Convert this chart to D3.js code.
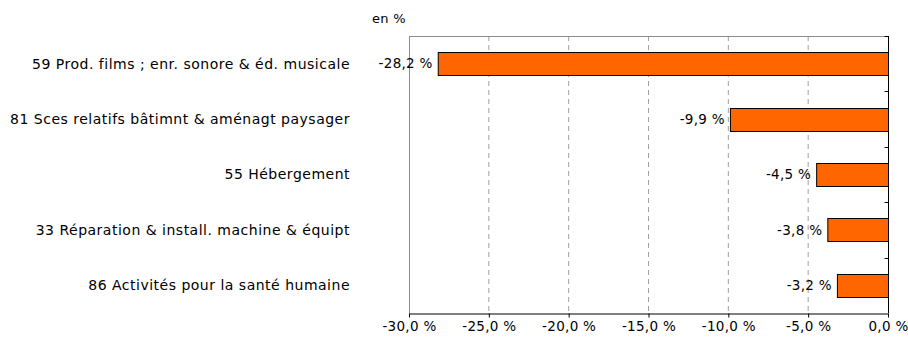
<!DOCTYPE html>
<html>
<head>
<meta charset="utf-8">
<script src="https://cdn.jsdelivr.net/npm/d3@7"></script>
<style>
  html, body { margin: 0; padding: 0; background: #fff; }
  svg { display: block; }
  text { font-family: "DejaVu Sans", sans-serif; fill: #000; }
</style>
</head>
<body>
<div id="chart"></div>
<script>
// Sectors and their change, in percent
const categories = [
  "59 Prod. films ; enr. sonore & éd. musicale",
  "81 Sces relatifs bâtimnt & aménagt paysager",
  "55 Hébergement",
  "33 Réparation & install. machine & équipt",
  "86 Activités pour la santé humaine"
];
const values = [-28.2, -9.9, -4.5, -3.8, -3.2];
const xTicks = [-30, -25, -20, -15, -10, -5, 0];
const unitLabel = "en %";

const W = 908, H = 342;
const margin = { left: 409, right: 20, top: 36, bottom: 29 };

const fmt = v => d3.format(".1f")(v).replace(".", ",").replace("−", "-") + " %";

const svg = d3.select("#chart").append("svg")
  .attr("width", W).attr("height", H);

const x = d3.scaleLinear().domain([-30, 0]).range([margin.left, W - margin.right]);
const y = d3.scaleBand().domain(categories)
  .range([margin.top, H - margin.bottom]).paddingInner(0.585).paddingOuter(0.2925);
const yEdges = d3.scaleBand().domain(categories).range([margin.top, H - margin.bottom]);

// Dashed vertical grid
svg.append("g").selectAll("line")
  .data(xTicks.filter(t => t !== -30 && t !== 0))
  .join("line")
  .attr("x1", d => x(d)).attr("x2", d => x(d))
  .attr("y1", margin.top).attr("y2", H - margin.bottom)
  .attr("stroke", "#a0a0a0").attr("stroke-width", 1)
  .attr("stroke-dasharray", "5,4");

// Frame: top and left in grey
svg.append("line")
  .attr("x1", x(-30)).attr("x2", x(0))
  .attr("y1", margin.top + 0.5).attr("y2", margin.top + 0.5)
  .attr("stroke", "#8c8c8c");
svg.append("line")
  .attr("x1", x(-30) + 0.5).attr("x2", x(-30) + 0.5)
  .attr("y1", margin.top).attr("y2", H - margin.bottom)
  .attr("stroke", "#8c8c8c");

// Bars
svg.append("g").selectAll("rect")
  .data(values)
  .join("rect")
  .attr("x", d => x(d) + 0.5)
  .attr("y", (d, i) => Math.round(y(categories[i])) + 0.5)
  .attr("width", d => x(0) - x(d))
  .attr("height", y.bandwidth())
  .attr("fill", "#ff6600")
  .attr("stroke", "#000").attr("stroke-width", 1);

// Value labels
svg.append("g").selectAll("text")
  .data(values)
  .join("text")
  .attr("x", d => x(d) - 5)
  .attr("y", (d, i) => y(categories[i]) + y.bandwidth() / 2)
  .attr("dy", "0.35em")
  .attr("text-anchor", "end")
  .attr("font-size", 13.5)
  .attr("letter-spacing", 0.3)
  .text(d => fmt(d));

// Bottom axis
const xAxis = d3.axisBottom(x).tickValues(xTicks).tickSize(4).tickSizeOuter(0).tickFormat(fmt);
const gx = svg.append("g")
  .attr("transform", `translate(0,${H - margin.bottom + 0.5})`)
  .call(xAxis);
gx.select(".domain").attr("stroke", "#000");
gx.selectAll(".tick line").attr("stroke", "#000");
gx.selectAll(".tick text").attr("font-size", 13.5).attr("dy", "0.8em")
  .attr("letter-spacing", 0.3)
  .attr("font-family", "DejaVu Sans, sans-serif");

// Right axis at zero with inward ticks at category boundaries
const gr = svg.append("g").attr("transform", `translate(${x(0) + 0.5},0)`);
gr.append("line")
  .attr("y1", margin.top).attr("y2", H - margin.bottom)
  .attr("stroke", "#000");
gr.selectAll(".edge")
  .data(categories)
  .join("line")
  .attr("class", "edge")
  .attr("x1", -4).attr("x2", 0)
  .attr("y1", d => Math.round(yEdges(d)) + 0.5)
  .attr("y2", d => Math.round(yEdges(d)) + 0.5)
  .attr("stroke", "#000");

// Category labels
svg.append("g").selectAll("text")
  .data(categories)
  .join("text")
  .attr("x", 350)
  .attr("y", d => y(d) + y.bandwidth() / 2)
  .attr("dy", "0.35em")
  .attr("text-anchor", "end")
  .attr("font-size", 14)
  .attr("letter-spacing", 0.5)
  .text(d => d);

// Unit label
svg.append("text")
  .attr("x", 372).attr("y", 18)
  .attr("dy", "0.35em")
  .attr("font-size", 13)
  .attr("letter-spacing", 0.3)
  .text(unitLabel);
</script>
</body>
</html>
